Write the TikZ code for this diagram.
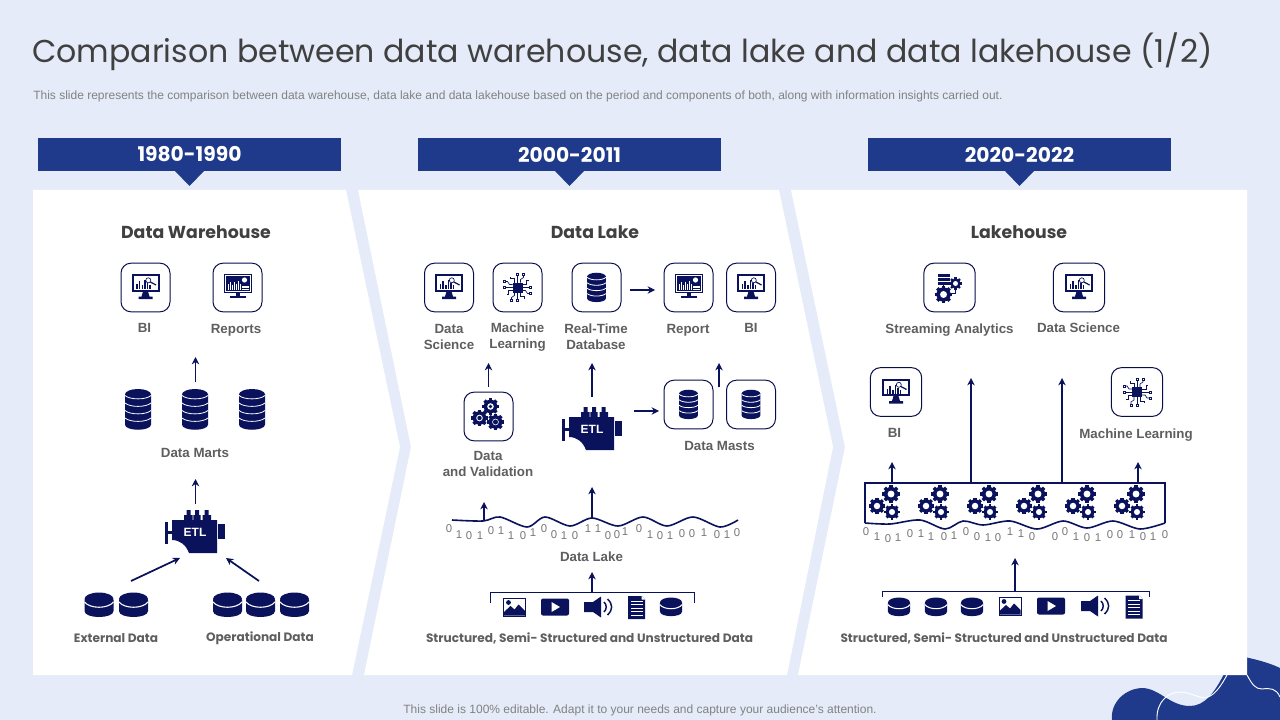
\documentclass[tikz,border=0pt]{standalone}
\usepackage{fontspec}
\setmainfont{Liberation Sans}
\newfontfamily\gothfont{Poppins}
\usetikzlibrary{arrows.meta,positioning,calc}
\definecolor{pagebg}{RGB}{229,235,248}
\definecolor{bannerblue}{RGB}{31,58,138}
\definecolor{iconnavy}{RGB}{10,18,92}
\definecolor{titlegray}{RGB}{64,64,64}
\definecolor{labgray}{RGB}{95,95,95}
\definecolor{notegray}{RGB}{130,130,130}
\begin{document}
\begin{tikzpicture}[
    x=0.75pt, y=-0.75pt,
    panel/.style={fill=white, draw=none},
    banner/.style={fill=bannerblue, minimum width=227.25pt, minimum height=24.75pt,
                   inner sep=0pt, text=white, font=\gothfont\fontsize{15.2}{18}\selectfont\bfseries},
    heading/.style={font=\gothfont\fontsize{13}{16}\selectfont\bfseries, text=titlegray},
    lab/.style={font=\fontsize{10}{12}\selectfont\bfseries, text=labgray, align=center},
    wide/.style={font=\gothfont\fontsize{9.1}{12}\selectfont\bfseries, text=labgray, align=center},
    note/.style={font=\fontsize{9}{11}\selectfont, text=notegray},
    bitlab/.style={font=\fontsize{8.5}{10}\selectfont, text=labgray!85, inner sep=0pt},
    iconbox/.style={draw=iconnavy!80!black, line width=0.75pt, rounded corners=7.5pt,
                    minimum width=36.75pt, minimum height=36.5pt, inner sep=0pt, fill=white},
    widebox/.style={iconbox, minimum width=38.5pt},
    arr/.style={-{Stealth[length=5.5pt,width=5.5pt]}, line width=1.3pt, draw=iconnavy},
    rim/.style={line width=1.2pt, draw=iconnavy},
    brace/.style={line width=0.6pt, draw=iconnavy},
    pics/dbstack/.style={code={
        \fill[iconnavy] (-13,-15) -- (13,-15) -- (13,15) .. controls (13,22) and (-13,22) .. (-13,15) -- cycle;
        \fill[iconnavy] (0,-15) ellipse [x radius=13, y radius=5.5];
        \foreach \ly in {-14,-6.5,1,8.5}
            \draw[white, line width=0.6pt] (-13,\ly) .. controls (-8,\ly+4.5) and (8,\ly+4.5) .. (13,\ly);
    }},
    pics/disk/.style={code={
        \fill[iconnavy] (-14.5,-5) -- (14.5,-5) -- (14.5,6) .. controls (14.5,14) and (-14.5,14) .. (-14.5,6) -- cycle;
        \fill[iconnavy] (0,-6) ellipse [x radius=14.5, y radius=6.5];
        \draw[white, line width=0.8pt] (-14.5,-3) .. controls (-9,4) and (9,4) .. (14.5,-3);
    }},
    pics/monitor/.style={code={
        \fill[iconnavy] (-14,-13.5) rectangle (14,4);
        \fill[white] (-12,-11.5) rectangle (12,2.2);
        \fill[iconnavy] (-2.5,4) -- (2.5,4) -- (4,9) -- (7,9) -- (7,11.5) -- (-7,11.5) -- (-7,9) -- (-4,9) -- cycle;
        \foreach \bx/\bh in {-9.5/5, -7/8, -4/4, -1.5/9, 1/6, 3.5/4}
            \fill[iconnavy] (\bx,1.5) rectangle ++(1.7,-\bh);
        \draw[iconnavy, line width=0.5pt] (2.8,-7.2) circle (2.5);
        \draw[iconnavy, line width=0.9pt] (4.7,-5.6) -- (10.5,-2.5);
    }},
    pics/report/.style={code={
        \fill[iconnavy] (-14,-13.5) rectangle (14,5.5);
        \draw[white, line width=0.3pt] (-12.5,-12) rectangle (12.5,4);
        \fill[iconnavy] (-2,5.5) rectangle (2,8.5);
        \fill[iconnavy] (-8,8.5) rectangle (8,10.5);
        \foreach \bx/\bh in {-10/6, -8/8, -6/5, -3.5/8, -1.5/6, 0.5/9, 2.5/6}
            \fill[white] (\bx,2.5) rectangle ++(1,-\bh);
        \fill[white] (7,-7.5) circle (2.6);
        \fill[white] (4.5,-1.5) rectangle (11,0);
        \fill[white] (4.5,1) rectangle (11,2.2);
    }},
    pics/chip/.style={code={
        \fill[iconnavy] (-5,-5) rectangle (5,5);
        \foreach \ang in {0,90,180,270} {
            \begin{scope}[rotate=\ang]
                \draw[iconnavy, line width=0.5pt] (5,-3) -- (9,-3) -- (9,-7) -- (11,-7);
                \draw[iconnavy, line width=0.5pt] (5,0) -- (12,0);
                \draw[iconnavy, line width=0.5pt] (5,3) -- (8,3) -- (10,6) -- (12,6);
                \draw[iconnavy, line width=0.4pt, fill=white] (12,-1) rectangle (14,1);
                \draw[iconnavy, line width=0.4pt, fill=white] (12,5) rectangle (14,7);
            \end{scope}
        }
    }},
    pics/gear/.style={code={
        \foreach \ang in {0,45,90,135}
            \fill[iconnavy, rotate=\ang] (-1.6,-8.4) rectangle (1.6,8.4);
        \fill[iconnavy] (0,0) circle (6.8);
        \fill[white] (0,0) circle (3.3);
    }},
    pics/gearring/.style={code={
        \pic {gear};
        \fill[iconnavy] (0,0) circle (2.1);
    }},
    pics/gearset/.style={code={
        \pic[scale=1.05] at (0,-9) {gear};
        \pic[scale=0.98] at (-14,3) {gear};
        \pic[scale=0.92] at (1,9) {gear};
    }},
    pics/streamer/.style={code={
        \foreach \ly in {-14,-10,-6}
            \fill[iconnavy] (-12,\ly) rectangle (0.5,\ly+3.2);
        \draw[iconnavy, line width=0.4pt] (-6,-3) -- (-6,2);
        \draw[iconnavy, line width=0.4pt] (-1,6) -- (6,6) -- (6,-1);
        \pic[scale=1.05] at (-6,7) {gear};
        \pic[scale=0.75] at (6,-4) {gear};
    }},
    pics/etl/.style={code={
        \fill[iconnavy] (-23,-12) -- (22,-12) -- (22,21) -- (-6,21)
            .. controls (-9,13) and (-15,8) .. (-23,8) -- cycle;
        \fill[iconnavy] (-11,-12) -- (-11,-17) -- (-8.5,-17) -- (-8.5,-22) -- (-4.5,-22) -- (-4.5,-17) -- (-2.3,-17) -- (-2.3,-12) -- cycle;
        \fill[iconnavy] (-1.7,-12) -- (-1.7,-17) -- (0,-17) -- (0,-22) -- (4,-22) -- (4,-17) -- (5.7,-17) -- (5.7,-12) -- cycle;
        \fill[iconnavy] (7.7,-12) -- (7.7,-17) -- (9.5,-17) -- (9.5,-22) -- (13.5,-22) -- (13.5,-17) -- (16,-17) -- (16,-12) -- cycle;
        \fill[iconnavy] (-30,-10) rectangle (-27,12);
        \fill[iconnavy] (-27,-1) rectangle (-23,2);
        \fill[iconnavy] (23.3,-7.7) rectangle (30,7.3);
        \node[text=white, inner sep=0pt, font=\fontsize{9}{11}\selectfont\bfseries] (-txt) at (0,0) {ETL};
    }},
    pics/photo/.style={code={
        \draw[iconnavy, line width=0.7pt, fill=white] (-11,-9) rectangle (11,9);
        \fill[iconnavy] (-10.5,8.5) -- (-10.5,5) -- (-4,-1) -- (0,2.5) -- (4,-2.5) -- (10.5,4) -- (10.5,8.5) -- cycle;
        \fill[iconnavy] (-6,-4.5) circle (2.4);
    }},
    pics/video/.style={code={
        \fill[iconnavy, rounded corners=1.5pt] (-14,-8.5) rectangle (14,8.5);
        \fill[white] (-3.5,-5) -- (5,0) -- (-3.5,5) -- cycle;
    }},
    pics/speaker/.style={code={
        \fill[iconnavy] (-14,-5) -- (-5,-5) -- (3,-10.5) -- (3,10.5) -- (-5,5) -- (-14,5) -- cycle;
        \draw[iconnavy, line width=1.1pt] (6,-5) .. controls (9,-2) and (9,2) .. (6,5);
        \draw[iconnavy, line width=1.1pt] (9.5,-8) .. controls (15,-3) and (15,3) .. (9.5,8);
    }},
    pics/docsheet/.style={code={
        \fill[iconnavy] (-8.5,-11.5) -- (5,-11.5) -- (8.5,-8) -- (8.5,11.5) -- (-8.5,11.5) -- cycle;
        \fill[white] (5,-11.5) -- (5,-8) -- (8.5,-8) -- cycle;
        \foreach \ly in {-7,-3.5,0,3.5,7}
            \fill[white] (-6,\ly) rectangle (6,\ly+1.3);
    }}
]
\useasboundingbox (0,0) rectangle (1280,720);
\fill[pagebg] (0,0) rectangle (1280,720);

\fill[bannerblue] (1112,720) .. controls (1110,702) and (1126,688) .. (1143,688)
    .. controls (1160,689) and (1170,706) .. (1190,706)
    .. controls (1205,706) and (1215,692) .. (1225,672) -- (1235,655)
    .. controls (1250,658) and (1268,662) .. (1280,668) -- (1280,720) -- cycle;
\draw[white, line width=0.7pt] (1157,720) .. controls (1156,702) and (1168,692) .. (1180,692)
    .. controls (1192,692) and (1200,700) .. (1208,697) .. controls (1216,694) and (1222,684) .. (1227,675);
\draw[white, line width=0.7pt] (1247,675) .. controls (1252,684) and (1255,689) .. (1262,689)
    .. controls (1270,688) and (1276,688) .. (1280,697);

\fill[panel] (33,190) -- (346,190) -- (400,447) -- (352,675) -- (33,675) -- cycle;
\fill[panel] (358,190) -- (779,190) -- (833,447) -- (787,675) -- (364,675) -- (411,447) -- cycle;
\fill[panel] (791,190) -- (1247,190) -- (1247,675) -- (798,675) -- (845,447) -- cycle;

\node[anchor=west, inner sep=0pt, text=titlegray, font=\gothfont\fontsize{23.7}{29}\selectfont] (title) at (32,52)
    {Comparison between data warehouse, data lake and data lakehouse (1/2)};
\node[note, anchor=west, inner sep=0pt] (subtitle) at (33,96)
    {This slide represents the comparison between data warehouse, data lake and data lakehouse based on the period and components of both, along with information insights carried out.};
\node[note] (footer) at (640,710)
    {This slide is 100\% editable. Adapt it to your needs and capture your audience's attention.};

\node[banner] (yeara) at (189.5,154.5) {\raisebox{-1pt}{1980-1990}};
\node[banner] (yearb) at (569.5,154.5) {\raisebox{-1pt}{2000-2011}};
\node[banner] (yearc) at (1019.5,154.5) {\raisebox{-1pt}{2020-2022}};
\foreach \bx in {189.5,569.5,1019.5}
    \fill[bannerblue] (\bx-14.5,171) -- (\bx+14.5,171) -- (\bx,186) -- cycle;

\node[heading] (dwhead) at (196,232) {Data Warehouse};
\node[iconbox] (dwbi) at (145.5,287.5) {};
\node[iconbox] (dwrep) at (237.5,287.5) {};
\pic at (dwbi) {monitor};
\pic at (dwrep) {report};
\node[lab] (dwbilab) at (144.5,328) {BI};
\node[lab] (dwreplab) at (236,330) {Reports};
\foreach \mx in {138,195,252}
    \pic at (\mx,409.5) {dbstack};
\node[lab] (dwmarts) at (195,453) {Data Marts};
\pic (dwetl) at (195,532) {etl};
\foreach \dx in {99,133.5,227.5,260.5,294.5}
    \pic at (\dx,605) {disk};
\node[wide] (dwext) at (116,638) {External Data};
\node[wide] (dwoper) at (260,638) {Operational Data};
\coordinate (dwa) at (195.5,382); \coordinate (dwb) at (195.5,357);
\coordinate (dwc) at (195.5,504); \coordinate (dwd) at (195.5,479);
\coordinate (dwe) at (131,581); \coordinate (dwf) at (180,558);
\coordinate (dwg) at (259,581); \coordinate (dwh) at (226,558);
\draw[arr] (dwa) -- (dwb);
\draw[arr] (dwc) -- (dwd);
\draw[arr] (dwe) -- (dwf);
\draw[arr] (dwg) -- (dwh);

\node[heading] (lakehead) at (595,232) {Data Lake};
\node[iconbox] (lksci) at (449,287.5) {};
\node[iconbox] (lkml) at (517.5,287.5) {};
\node[iconbox] (lkreal) at (596.5,287.5) {};
\node[iconbox] (lkrep) at (688.5,287.5) {};
\node[iconbox] (lkbi) at (751,287.5) {};
\pic at (lksci) {monitor};
\pic at (lkml) {chip};
\pic[scale=0.72] at (lkreal) {dbstack};
\pic at (lkrep) {report};
\pic at (lkbi) {monitor};
\node[lab] (lkscilab) at (449,336.5) {Data\\Science};
\node[lab] (lkmllab) at (517.5,337.5) {Machine\\Learning};
\node[lab] (lkreallab) at (596,336.5) {Real-Time\\Database};
\node[lab] (lkreplab) at (688,330) {Report};
\node[lab] (lkbilab) at (751,328) {BI};
\node[iconbox] (lkval) at (488.5,416.5) {};
\pic[scale=0.85] at (490.5,406.5) {gearring};
\pic[scale=1.05] at (479.5,418) {gearring};
\pic[scale=1.2] at (495.5,422) {gearring};
\node[lab] (lkvallab) at (488,463.5) {Data\\and Validation};
\pic (lketl) at (592,429) {etl};
\node[iconbox] (lkmarta) at (688.5,404.5) {};
\node[iconbox] (lkmartb) at (751,404.5) {};
\pic[scale=0.72] at (lkmarta) {dbstack};
\pic[scale=0.72] at (lkmartb) {dbstack};
\node[lab] (lkmarts) at (719.5,446) {Data Masts};
\coordinate (lka) at (488.5,387); \coordinate (lkb) at (488.5,363);
\coordinate (lkc) at (592,397); \coordinate (lkd) at (592,363);
\coordinate (lke) at (630,290); \coordinate (lkf) at (655,290);
\coordinate (lkg) at (634,411); \coordinate (lkh) at (659,411);
\coordinate (lki) at (719,387); \coordinate (lkj) at (719,363);
\coordinate (lkk) at (484,521); \coordinate (lkl) at (484,502);
\coordinate (lkm) at (592,518); \coordinate (lkn) at (592,487);
\coordinate (lko) at (592,592); \coordinate (lkp) at (592,572);
\draw[arr] (lka) -- (lkb);
\draw[arr] (lkc) -- (lkd);
\draw[arr] (lke) -- (lkf);
\draw[arr] (lkg) -- (lkh);
\draw[arr] (lki) -- (lkj);
\draw[arr] (lkk) -- (lkl);
\draw[arr] (lkm) -- (lkn);
\draw[arr] (lko) -- (lkp);
\draw[rim] plot[smooth] coordinates {(452,520) (483,521) (500,517) (527,527) (545,517) (570,526) (592,518) (618,526) (643,517) (667,526) (693,517) (720,527) (738,520)};
\foreach \bx/\by/\bv [count=\bi] in {449/529/0,459/535/1,469/536/0,480/536/1,491/531/0,501/531/1,511/536/1,523/536/0,533/533/1,544/529/0,554/535/0,564/536/1,575/536/0,588/529/1,598/529/1,608/536/0,617/535/0,625/532/1,639/529/0,650/535/1,660/536/0,670/536/1,682/534/0,692/534/0,704/533/1,717/535/0,727/535/1,737/533/0}
    \node[bitlab] (lkbit\bi) at (\bx,\by) {\bv};
\node[lab] (lklake) at (591.5,557) {Data Lake};
\draw[brace] (490,603) -- (490,592) -- (694,592) -- (694,603);
\pic at (514.5,607) {photo};
\pic at (555,607) {video};
\pic at (598,607) {speaker};
\pic at (636.5,607.5) {docsheet};
\pic[scale=0.76] at (671,607) {disk};
\node[wide] (lkdata) at (589.5,638) {Structured, Semi- Structured and Unstructured Data};

\node[heading] (lhhead) at (1019,232) {Lakehouse};
\node[widebox] (lhstream) at (949.5,287.5) {};
\node[widebox] (lhsci) at (1079,287.5) {};
\pic at (lhstream) {streamer};
\pic at (lhsci) {monitor};
\node[lab] (lhstreamlab) at (949.5,330) {Streaming Analytics};
\node[lab] (lhscilab) at (1078.5,328) {Data Science};
\node[widebox] (lhbi) at (896,392) {};
\node[widebox] (lhml) at (1137,392) {};
\pic at (lhbi) {monitor};
\pic at (lhml) {chip};
\node[lab] (lhbilab) at (894.5,433) {BI};
\node[lab] (lhmllab) at (1136,435) {Machine Learning};
\draw[rim] (865,523) -- (865,483) -- (1165,483) -- (1165,523);
\draw[rim] plot[smooth] coordinates {(865,523) (890,524) (920,520) (945,529) (963,521) (983,525) (1010,521) (1037,529) (1063,521) (1087,528) (1113,521) (1140,529) (1165,523)};
\foreach \gx in {891,940,989,1038,1087,1136}
    \pic at (\gx,503) {gearset};
\foreach \bx/\by/\bv [count=\bi] in {866/532/0,877/537/1,888/539/0,898/538/1,910/534/0,921/534/1,931/537/1,944/537/0,954/536/1,966/532/0,977/537/0,988/538/1,998/538/0,1010/532/1,1021/534/1,1032/537/0,1055/537/0,1065/532/0,1076/537/1,1087/538/0,1098/538/1,1110/535/0,1120/535/0,1132/535/1,1143/537/0,1153/537/1,1165/535/0}
    \node[bitlab] (lhbit\bi) at (\bx,\by) {\bv};
\coordinate (lha) at (892,483); \coordinate (lhb) at (892,462);
\coordinate (lhc) at (971,483); \coordinate (lhd) at (971,378);
\coordinate (lhe) at (1062,483); \coordinate (lhf) at (1062,378);
\coordinate (lhg) at (1138,483); \coordinate (lhh) at (1138,462);
\coordinate (lhi) at (1015,591); \coordinate (lhj) at (1015,558);
\draw[arr] (lha) -- (lhb);
\draw[arr] (lhc) -- (lhd);
\draw[arr] (lhe) -- (lhf);
\draw[arr] (lhg) -- (lhh);
\draw[arr] (lhi) -- (lhj);
\draw[brace] (882,597) -- (882,591) -- (1149,591) -- (1149,597);
\foreach \dx in {899,936,972}
    \pic[scale=0.76] at (\dx,607) {disk};
\pic at (1010,606) {photo};
\pic at (1051,606) {video};
\pic at (1095,606) {speaker};
\pic at (1134,607) {docsheet};
\node[wide] (lhdata) at (1004,638) {Structured, Semi- Structured and Unstructured Data};
\end{tikzpicture}
\end{document}
